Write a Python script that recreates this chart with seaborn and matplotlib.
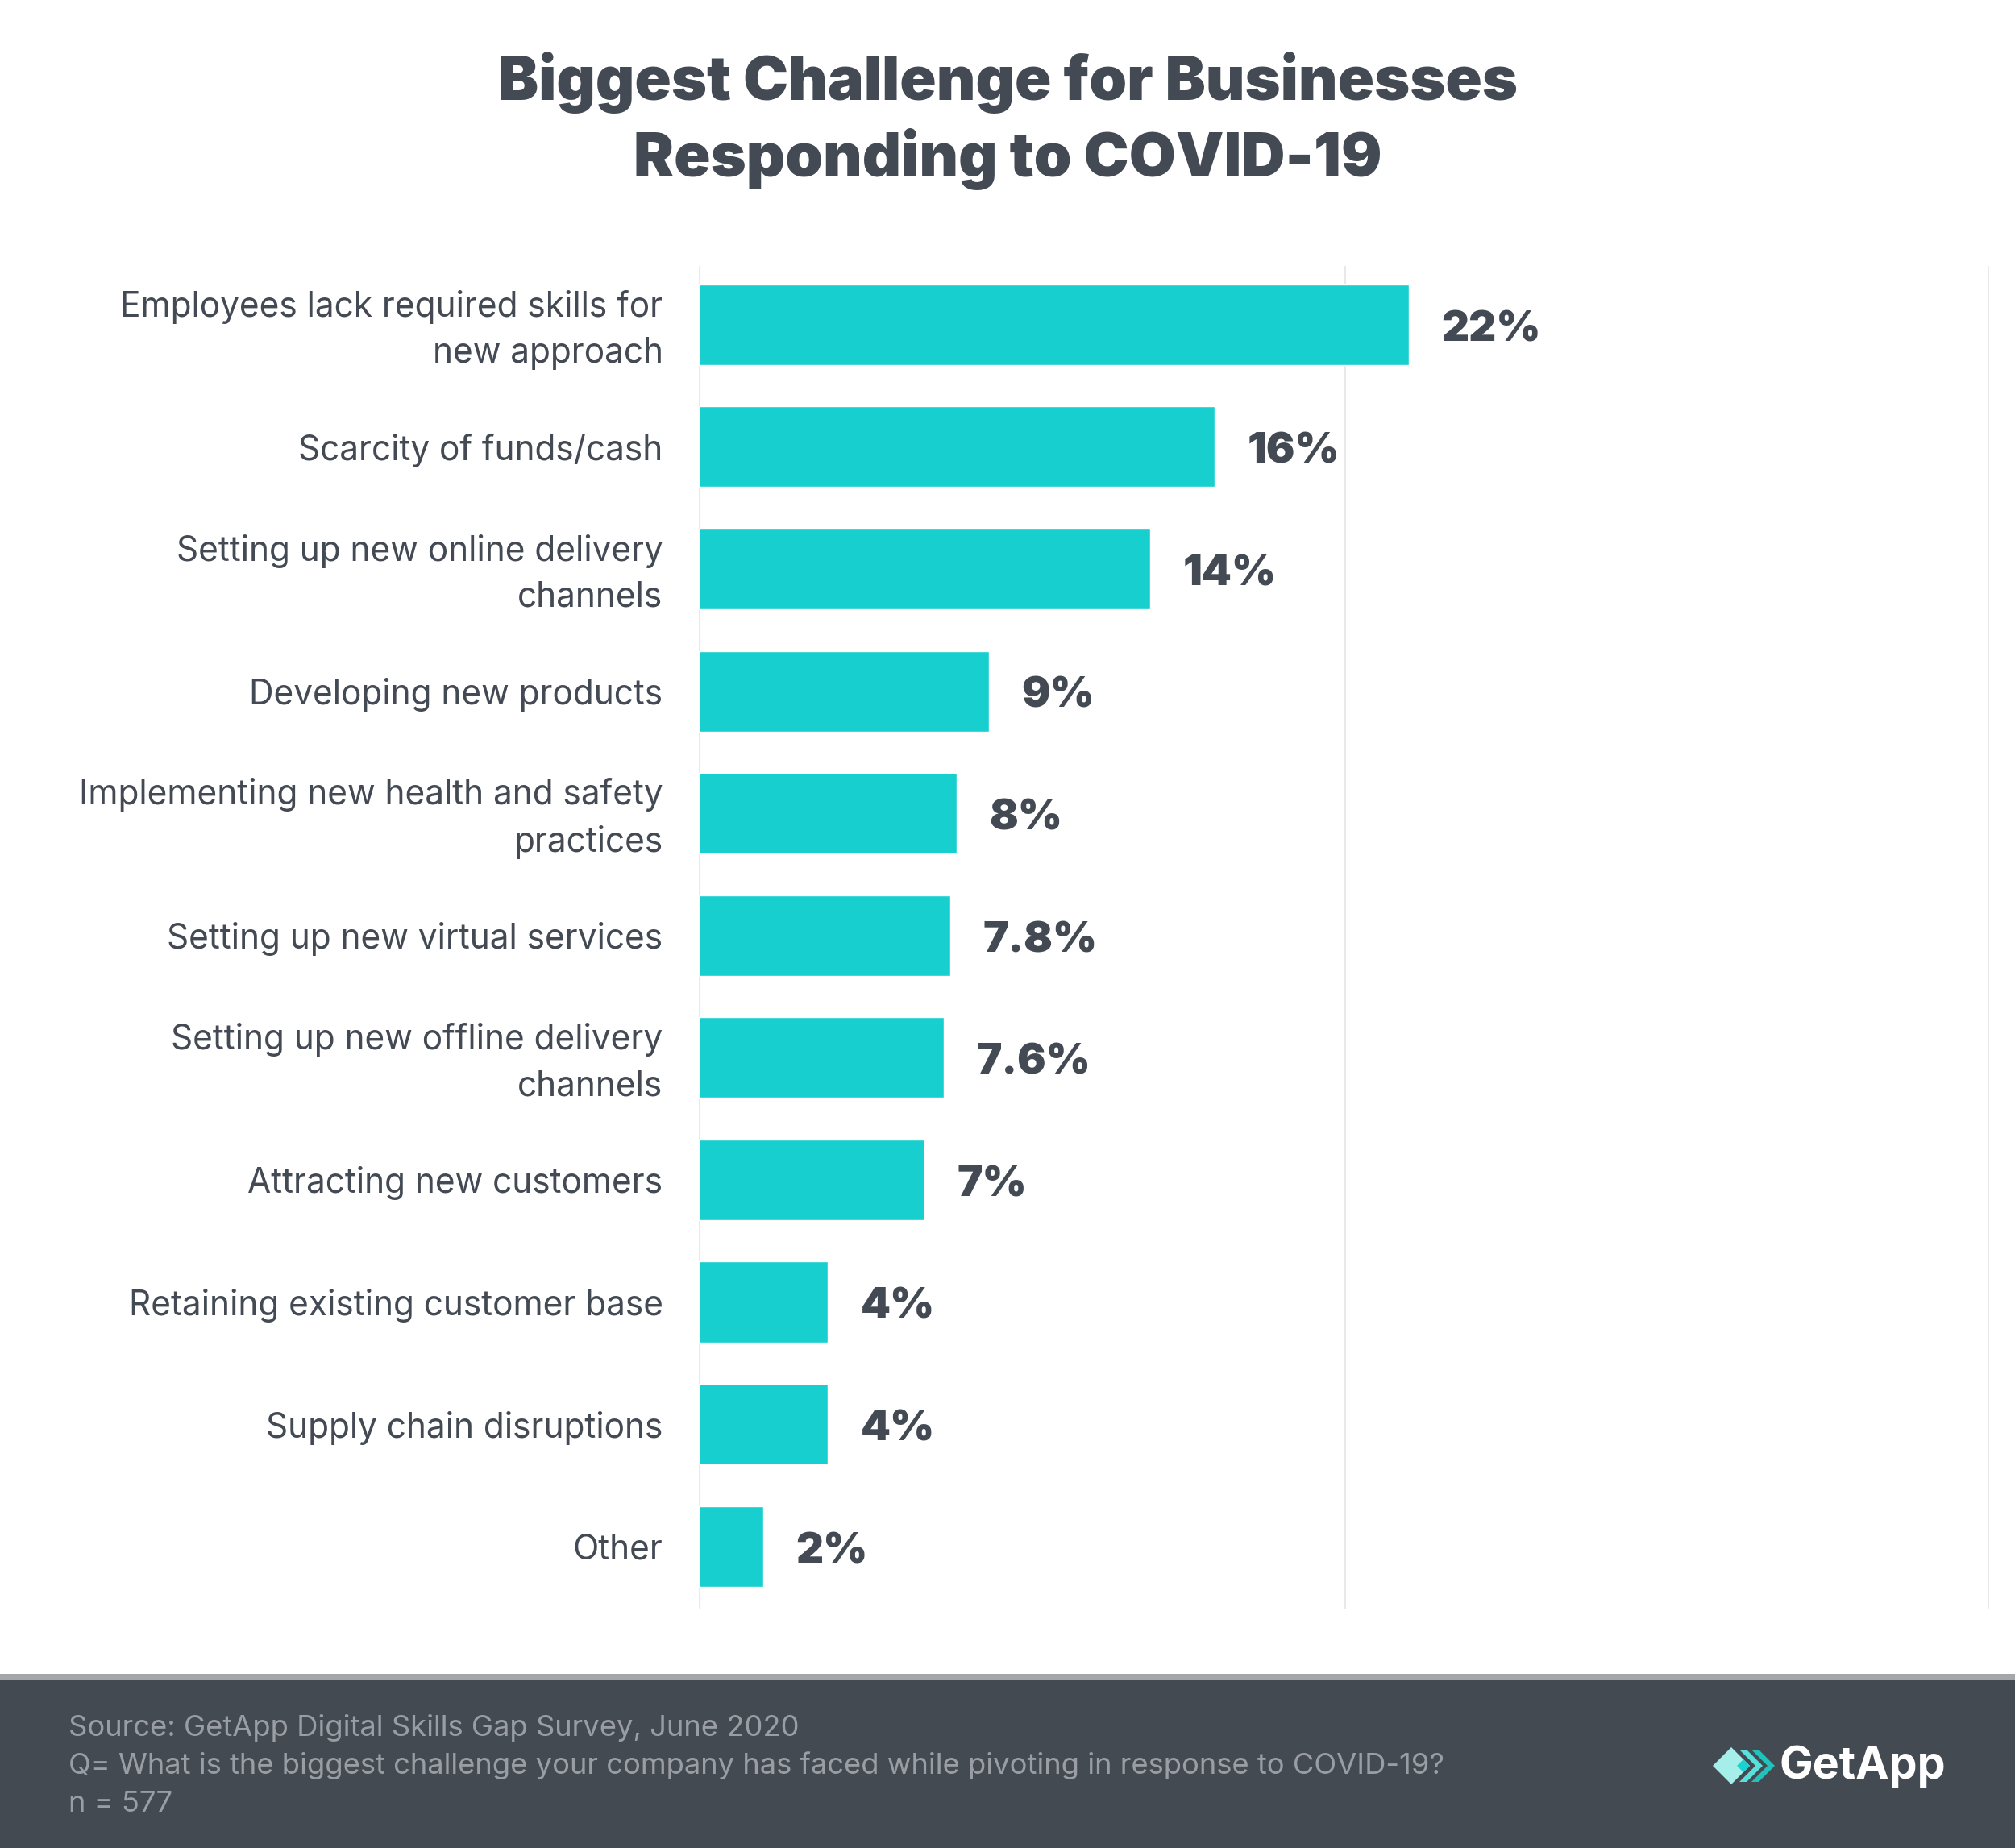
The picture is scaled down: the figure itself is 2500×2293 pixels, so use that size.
import matplotlib
matplotlib.use("Agg")
import matplotlib.pyplot as plt
import matplotlib.transforms as mtrans
import seaborn as sns
from matplotlib.patches import Rectangle, Polygon

categories = [
    "Employees lack required skills for\nnew approach",
    "Scarcity of funds/cash",
    "Setting up new online delivery\nchannels",
    "Developing new products",
    "Implementing new health and safety\npractices",
    "Setting up new virtual services",
    "Setting up new offline delivery\nchannels",
    "Attracting new customers",
    "Retaining existing customer base",
    "Supply chain disruptions",
    "Other",
]
values = [22, 16, 14, 9, 8, 7.8, 7.6, 7, 4, 4, 2]
value_labels = ["22%", "16%", "14%", "9%", "8%", "7.8%", "7.6%", "7%", "4%", "4%", "2%"]

title = "Biggest Challenge for Businesses\nResponding to COVID-19"
footer_lines = [
    "Source: GetApp Digital Skills Gap Survey, June 2020",
    "Q= What is the biggest challenge your company has faced while pivoting in response to COVID-19?",
    "n = 577",
]

W, H = 2500, 2293
DARK = "#434a54"
BAR = "#18cfd0"
GRID = "#e9e9e9"

sns.set_theme(style="white")
plt.rcParams["font.family"] = ["Inter", "DejaVu Sans"]

fig = plt.figure(figsize=(W / 100, H / 100), dpi=100)
fig.patch.set_facecolor("white")


def fx(px):
    return px / W


def fy(py):
    return 1 - py / H


ax = fig.add_axes([fx(867), fy(1996), fx(2468) - fx(867), fy(330) - fy(1996)])
sns.barplot(x=values, y=categories, orient="h", color=BAR, saturation=1,
            width=0.66, ax=ax)

ax.set_xlim(0, 40)
ax.set_ylim(10.51, -0.48)
ax.set_xticks([0, 20, 40])
ax.xaxis.grid(True, color=GRID, linewidth=2.2)
ax.set_axisbelow(True)
ax.tick_params(axis="x", length=0, labelbottom=False)
ax.tick_params(axis="y", length=20, width=2.2, color=GRID, pad=12,
               labelsize=30.5, labelcolor=DARK)
shift = mtrans.ScaledTranslation(0, -4.5 / 72, fig.dpi_scale_trans)
for lab in ax.get_yticklabels():
    if "\n" in lab.get_text():
        lab.set_linespacing(1.5)
        lab.set_verticalalignment("center")
        lab.set_transform(lab.get_transform() + shift)
for s in ax.spines.values():
    s.set_visible(False)
ax.set_xlabel("")
ax.set_ylabel("")

for i, (v, t) in enumerate(zip(values, value_labels)):
    ax.annotate(t, (v, i), xytext=(29, -5), textcoords="offset points",
                ha="left", va="center", fontsize=38, fontweight=900, color=DARK)

fig.text(0.5, fy(150), title, ha="center", va="center", fontsize=54,
         fontweight=900, color=DARK, linespacing=1.3)

# footer band
fig.patches.append(Rectangle((0, 0), 1, fy(2084), transform=fig.transFigure,
                             facecolor="#444a52", edgecolor="none", zorder=0))
fig.patches.append(Rectangle((0, fy(2084)), 1, fy(2077) - fy(2084),
                             transform=fig.transFigure, facecolor="#a4a7aa",
                             edgecolor="none", zorder=0))
for k, line in enumerate(footer_lines):
    fig.text(fx(85), fy(2144 + 47 * k), line, ha="left", va="center",
             fontsize=26.2, color="#9a9ea4")

# logo
def diamond(cx, cy, r, color):
    pts = [(fx(cx - r), fy(cy)), (fx(cx), fy(cy - r)), (fx(cx + r), fy(cy)), (fx(cx), fy(cy + r))]
    fig.patches.append(Polygon(pts, closed=True, transform=fig.transFigure,
                               facecolor=color, edgecolor="none"))


def chevron(cx, cy, r, t, color):
    pts = [(cx - r, cy - r), (cx - r + t, cy - r), (cx + t, cy), (cx - r + t, cy + r),
           (cx - r, cy + r), (cx, cy)]
    pts = [(fx(a), fy(b)) for a, b in pts]
    fig.patches.append(Polygon(pts, closed=True, transform=fig.transFigure,
                               facecolor=color, edgecolor="none"))


diamond(2148, 2191, 23, "#a6eeea")
chevron(2178, 2191, 20, 9, "#59e0dc")
chevron(2193, 2191, 20, 9, "#20c3bb")
diamond(2163, 2191, 8, "#18d3d2")
fig.text(fx(2208), fy(2192), "GetApp", ha="left", va="center", fontsize=40,
         fontweight="bold", color="white")

fig.savefig("out.png", dpi=100, facecolor="white")
